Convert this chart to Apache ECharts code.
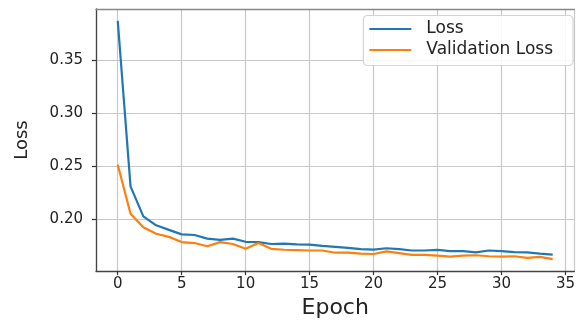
<!DOCTYPE html>
<html>
<head>
<meta charset="utf-8">
<script src="https://cdn.jsdelivr.net/npm/echarts@6/dist/echarts.min.js"></script>
<style>
  html, body { margin: 0; padding: 0; background: #fff; overflow: hidden; }
  #main { width: 578px; height: 324px; }
</style>
</head>
<body>
<div id="main"></div>
<script>
const epochs = [0, 1, 2, 3, 4, 5, 6, 7, 8, 9, 10, 11, 12, 13, 14, 15, 16, 17,
  18, 19, 20, 21, 22, 23, 24, 25, 26, 27, 28, 29, 30, 31, 32, 33, 34];
const loss = [0.3867, 0.2309, 0.2027, 0.1943, 0.1900, 0.1858, 0.1852, 0.1818, 0.1806,
  0.1818, 0.1788, 0.1785, 0.1767, 0.1770, 0.1764, 0.1761, 0.1749, 0.1740, 0.1731,
  0.1718, 0.1715, 0.1727, 0.1718, 0.1706, 0.1706, 0.1712, 0.1700, 0.1700, 0.1688,
  0.1706, 0.1700, 0.1691, 0.1688, 0.1676, 0.1667];
const valLoss = [0.2513, 0.2052, 0.1925, 0.1864, 0.1834, 0.1785, 0.1776, 0.1746, 0.1785,
  0.1767, 0.1722, 0.1776, 0.1722, 0.1713, 0.1710, 0.1706, 0.1706, 0.1685, 0.1685,
  0.1676, 0.1673, 0.1697, 0.1682, 0.1664, 0.1664, 0.1658, 0.1649, 0.1658, 0.1661,
  0.1652, 0.1649, 0.1652, 0.1636, 0.1646, 0.1624];
// tick steps (0, 5, ... 35 and 0.20 ... 0.35)
const xStep = 5;
const yStep = 0.05;
const xRange = [-1.7, 35.7];
const yRange = [0.1512, 0.3979];

const font = 'DejaVu Sans';
const myChart = echarts.init(document.getElementById('main'));

myChart.setOption({
  animation: false,
  textStyle: { fontFamily: font },
  grid: { left: 96, right: -4.2, top: 9, bottom: 45 },
  legend: {
    orient: 'vertical',
    right: 5, top: 15.5,
    data: ['Loss', 'Validation Loss'],
    icon: 'rect',
    itemWidth: 42, itemHeight: 2, itemGap: 4,
    padding: [5, 20, 7, 6],
    backgroundColor: 'rgba(255,255,255,0.85)',
    borderColor: '#d4d4d4', borderWidth: 1.2, borderRadius: 4,
    textStyle: { fontSize: 17, color: '#222', padding: [0, 0, 0, 10] }
  },
  xAxis: [{
    type: 'value',
    min: xRange[0], max: xRange[1],
    // no interval: ticks snap to multiples of the step, not to min
    minInterval: xStep, maxInterval: xStep,
    name: 'Epoch', nameLocation: 'middle', nameGap: 21,
    nameTextStyle: { fontSize: 22, color: '#222' },
    axisLine: { show: true, onZero: false, lineStyle: { color: '#444', width: 1.3 } },
    axisTick: { show: true, length: 4, lineStyle: { color: '#333', width: 1.2 } },
    axisLabel: { fontSize: 15, color: '#222', margin: 6, showMinLabel: false, showMaxLabel: false },
    splitLine: { show: true, lineStyle: { color: '#c8c8c8', width: 1.2 } }
  }, {
    // top frame line only
    type: 'value', position: 'top',
    min: xRange[0], max: xRange[1],
    axisLine: { show: true, onZero: false, lineStyle: { color: '#888', width: 1.3 } },
    axisTick: { show: false }, axisLabel: { show: false }, splitLine: { show: false }
  }],
  yAxis: {
    type: 'value',
    min: yRange[0], max: yRange[1],
    minInterval: yStep, maxInterval: yStep,
    name: 'Loss', nameLocation: 'middle', nameGap: 65,
    nameTextStyle: { fontSize: 18, color: '#222' },
    axisLine: { show: true, onZero: false, lineStyle: { color: '#444', width: 1.3 } },
    axisTick: { show: true, length: 4, lineStyle: { color: '#333', width: 1.2 } },
    axisLabel: {
      fontSize: 15, color: '#222', margin: 13, showMinLabel: false, showMaxLabel: false,
      formatter: v => v.toFixed(2)
    },
    splitLine: { show: true, lineStyle: { color: '#c8c8c8', width: 1.2 } }
  },
  series: [
    {
      name: 'Loss', type: 'line', z: 3,
      data: epochs.map((e, i) => [e, loss[i]]),
      symbol: 'none', showSymbol: false,
      color: '#1f77b4',
      lineStyle: { width: 2.2, color: '#1f77b4' }
    },
    {
      name: 'Validation Loss', type: 'line', z: 3,
      data: epochs.map((e, i) => [e, valLoss[i]]),
      symbol: 'none', showSymbol: false,
      color: '#ff7f0e',
      lineStyle: { width: 2.2, color: '#ff7f0e' }
    }
  ]
});
</script>
</body>
</html>
